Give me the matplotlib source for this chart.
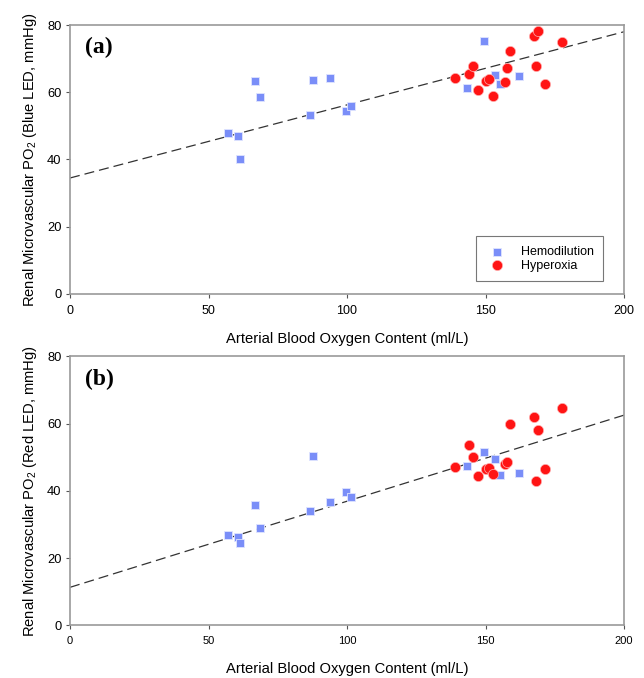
import numpy as np
import matplotlib
matplotlib.use('Agg')
import matplotlib.pyplot as plt

plt.rcParams['font.family'] = ['Liberation Sans', 'DejaVu Sans']
plt.rcParams['mathtext.fontset'] = 'custom'
plt.rcParams['mathtext.rm'] = 'Liberation Sans'
plt.rcParams['mathtext.it'] = 'Liberation Sans:italic'

# Hemodilution (blue squares) - arterial O2 content, ml/L
hemo_x = [66.8, 68.5, 57.2, 60.5, 61.5, 87.7, 93.9, 86.6, 99.8, 101.4,
          149.6, 143.4, 153.3, 155.2, 162.1]
hemo_blue = [63.4, 58.7, 47.9, 47.1, 40.0, 63.5, 64.1, 53.2, 54.4, 56.0,
             75.2, 61.4, 65.0, 62.5, 64.8]
hemo_red = [35.9, 28.8, 26.9, 26.3, 24.5, 50.4, 36.7, 34.0, 39.6, 38.2,
            51.4, 47.5, 49.4, 44.7, 45.2]

# Hyperoxia (red circles)
hyper_x = [139.0, 144.2, 145.6, 147.2, 150.3, 151.4, 152.7, 157.0, 157.8,
           158.7, 167.6, 169.1, 168.2, 171.5, 177.6]
hyper_blue = [64.2, 65.5, 67.8, 60.7, 63.4, 64.0, 58.8, 63.2, 67.1,
              72.2, 76.8, 78.3, 67.8, 62.4, 74.9]
hyper_red = [47.0, 53.7, 50.0, 44.3, 46.5, 46.8, 45.1, 48.1, 48.6,
             59.8, 61.9, 58.1, 43.0, 46.4, 64.5]

# regression lines (intercept, value at 200)
fit_a = (34.5, 78.0)
fit_b = (11.3, 62.5)

blue_c = '#7a8ef8'
red_c = '#ff1414'
spine_c = '#9a9a9a'

fig = plt.figure(figsize=(6.44, 6.78), dpi=100)
ax_a = fig.add_axes([0.1087, 0.5664, 0.8603, 0.3967])
ax_b = fig.add_axes([0.1087, 0.0777, 0.8603, 0.3968])

panels = [
    (ax_a, hemo_blue, hyper_blue, fit_a, '(a)', 'Blue LED', 9),
    (ax_b, hemo_red, hyper_red, fit_b, '(b)', 'Red LED', 8),
]

for ax, hy, ry, fit, tag, led, xts in panels:
    ax.plot([0, 200], list(fit), color='#333333', lw=0.9,
            dashes=(8, 4), zorder=1)
    ax.scatter(hemo_x, hy, marker='s', s=34, color=blue_c,
               edgecolors='#dfe4ff', linewidths=0.6, zorder=3,
               label='Hemodilution')
    ax.scatter(hyper_x, ry, marker='o', s=54, color=red_c,
               edgecolors='#ffb0b0', linewidths=0.5, zorder=3,
               label='Hyperoxia')
    ax.set_xlim(0, 200)
    ax.set_ylim(0, 80)
    ax.set_xticks([0, 50, 100, 150, 200])
    ax.set_yticks([0, 20, 40, 60, 80])
    for s in ax.spines.values():
        s.set_color(spine_c)
        s.set_linewidth(1.2)
    ax.tick_params(direction='out', length=3, width=0.8, color='#555555')
    ax.tick_params(axis='y', labelsize=9.3, pad=3)
    ax.tick_params(axis='x', labelsize=xts, pad=5)
    ax.set_xlabel('Arterial Blood Oxygen Content (ml/L)', fontsize=10.6,
                  labelpad=11)
    ax.set_ylabel('Renal Microvascular PO$_2$ (%s, mmHg)' % led,
                  fontsize=10.6, labelpad=6)
    ax.text(0.027, 0.955, tag, transform=ax.transAxes, fontsize=17,
            fontweight='bold', family='Liberation Serif', va='top')

leg = ax_a.legend(loc='lower right', bbox_to_anchor=(0.962, 0.048),
                  fontsize=9, frameon=True, fancybox=False,
                  handletextpad=0.85, borderpad=0.75, labelspacing=0.15,
                  scatterpoints=1, borderaxespad=0)
leg.get_frame().set_edgecolor('#555555')
leg.get_frame().set_linewidth(0.8)

fig.savefig('out.png', dpi=100)
